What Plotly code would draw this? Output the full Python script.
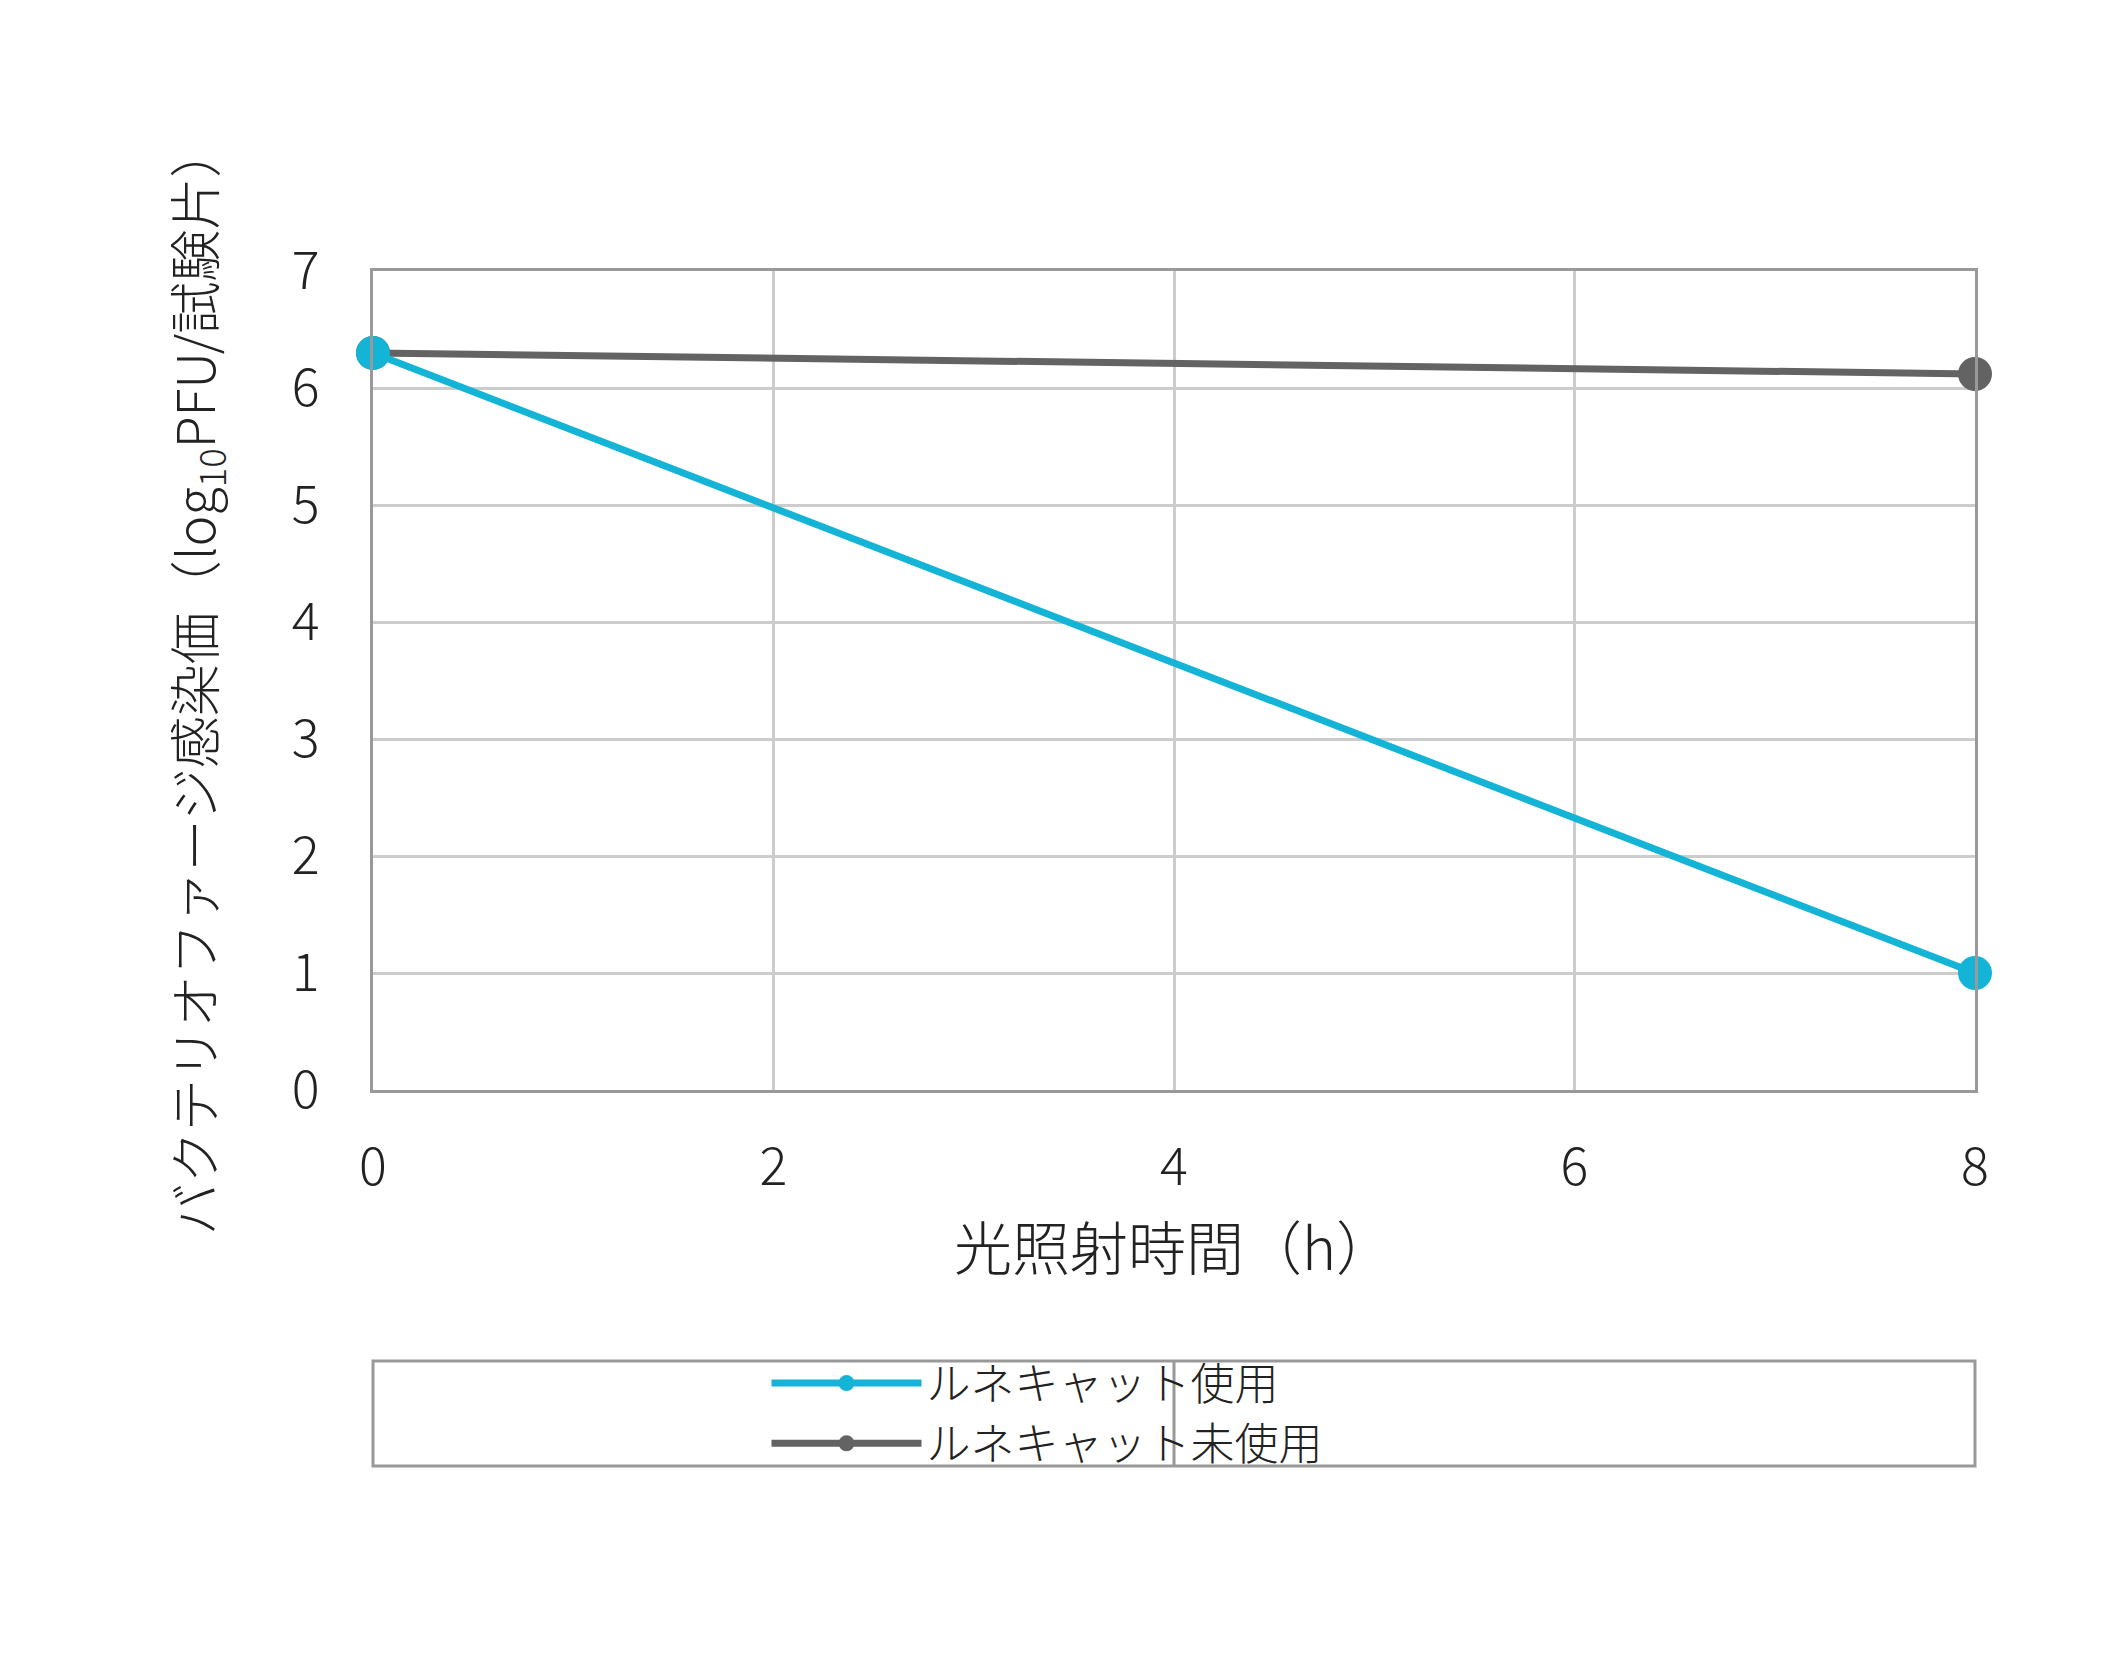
import plotly.graph_objects as go

hours = [0, 8]
used = [6.3, 1.0]
unused = [6.3, 6.12]
limit = 1.0

font = "Noto Sans CJK JP"
cyan = "#14b4d6"
grey = "#636363"

fig = go.Figure()
fig.add_trace(go.Scatter(x=hours, y=unused, mode="lines+markers", name="ルネキャット未使用",
                         line=dict(color=grey, width=7), marker=dict(size=34, color=grey),
                         cliponaxis=False, legendrank=2))
fig.add_trace(go.Scatter(x=hours, y=used, mode="lines+markers", name="ルネキャット使用",
                         line=dict(color=cyan, width=7), marker=dict(size=34, color=cyan),
                         cliponaxis=False, legendrank=1))

fig.add_shape(type="line", xref="x", yref="y", x0=hours[0], x1=hours[-1], y0=limit, y1=limit,
              line=dict(color="#555555", width=2, dash="dash"), layer="below")
# legend frame with divider
fig.add_shape(type="rect", xref="paper", yref="paper", x0=0, x1=1, y0=-0.331, y1=-0.459,
              line=dict(color="#999999", width=3))
fig.add_shape(type="line", xref="paper", yref="paper", x0=0.5, x1=0.5, y0=-0.331, y1=-0.459,
              line=dict(color="#999999", width=3))

fig.update_layout(
    width=2126, height=1654,
    margin=dict(l=365, r=159, t=263, b=572),
    plot_bgcolor="white", paper_bgcolor="white",
    font=dict(family=font, size=52, color="#222222", weight=300),
    showlegend=True,
    legend=dict(orientation="h", x=0.5, xanchor="center", y=-0.395, yanchor="middle",
                entrywidth=650, font=dict(size=44), itemwidth=150,
                bgcolor="rgba(0,0,0,0)"),
    xaxis=dict(range=[0, 8], dtick=2, showgrid=True, gridcolor="#cccccc", gridwidth=3,
               showline=True, linecolor="#999999", linewidth=3, mirror=True,
               zeroline=False, ticklabelstandoff=30,
               title=dict(text="光照射時間（h）", font=dict(size=58), standoff=30)),
    yaxis=dict(range=[0, 7], dtick=1, showgrid=True, gridcolor="#cccccc", gridwidth=3,
               showline=True, linecolor="#999999", linewidth=3, mirror=True,
               zeroline=False, ticklabelstandoff=40,
               title=dict(text="バクテリオファージ感染価（log<sub>10</sub>PFU/試験片）",
                          font=dict(size=52), standoff=60)),
)

fig.write_html("out.html")
